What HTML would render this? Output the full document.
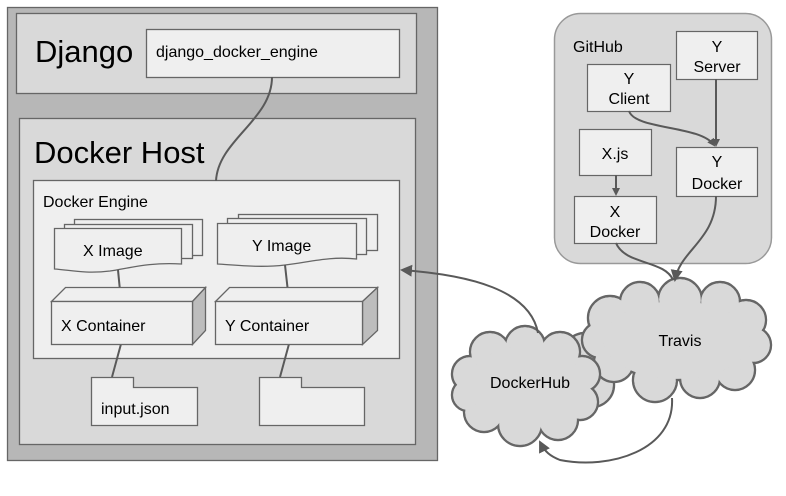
<!DOCTYPE html>
<html><head><style>
body{margin:0;background:#fff;width:786px;height:491px;overflow:hidden}
svg text{font-family:"Liberation Sans",Arial,sans-serif;fill:#000}
</style></head><body>
<svg width="786" height="491" viewBox="0 0 786 491" xmlns="http://www.w3.org/2000/svg">
<defs>
<marker id="ah" markerWidth="8" markerHeight="8" refX="6" refY="4" orient="auto" markerUnits="userSpaceOnUse">
<path d="M0,0 L8,4 L0,8 z" fill="#595959"/></marker>
<marker id="ah2" markerWidth="12" markerHeight="12" refX="10" refY="6" orient="auto" markerUnits="userSpaceOnUse">
<path d="M0,0 L12,6 L0,12 z" fill="#595959"/></marker>
</defs>
<g stroke="#666" stroke-width="1.3">
<rect x="7.5" y="7.5" width="430" height="453" fill="#b7b7b7"/>
<rect x="16.5" y="13.5" width="400" height="80" fill="#d9d9d9"/>
<rect x="146.5" y="29.5" width="253" height="48" fill="#efefef"/>
<rect x="19.5" y="118.5" width="396" height="326" fill="#d9d9d9"/>
<rect x="33.5" y="180.5" width="366" height="178" fill="#efefef"/>
<rect x="74.5" y="219.5" width="128" height="36" fill="#efefef"/>
<rect x="64.5" y="224.5" width="128" height="34" fill="#efefef"/>
<path d="M54.5,228.5 H181.5 V264 C150,262 130,268 110,271 C85,274 70,270 54.5,269 Z" fill="#efefef"/>
<rect x="238.5" y="214.5" width="139" height="36" fill="#efefef"/>
<rect x="227.5" y="218.5" width="139" height="36" fill="#efefef"/>
<path d="M217.5,223.5 H356.5 V259 C330,256 310,262 285,265 C260,268 235,265 217.5,264 Z" fill="#efefef"/>
<path d="M118,270 L121,301 M121,344 L112,377 M285,265 L289,301 M289,344 L280,377" fill="none" stroke="#595959" stroke-width="2"/>
<path d="M51.5,301.5 L65.5,287.5 H205.5 L192.5,301.5 Z" fill="#efefef"/>
<path d="M192.5,301.5 L205.5,287.5 V330.5 L192.5,344.5 Z" fill="#bdbdbd"/>
<rect x="51.5" y="301.5" width="141" height="43" fill="#efefef"/>
<path d="M215.5,301.5 L229.5,287.5 H377.5 L362.5,301.5 Z" fill="#efefef"/>
<path d="M362.5,301.5 L377.5,287.5 V330.5 L362.5,344.5 Z" fill="#bdbdbd"/>
<rect x="215.5" y="301.5" width="147" height="43" fill="#efefef"/>
<path d="M91.5,425.5 V377.5 H133.5 V387.5 H197.5 V425.5 Z" fill="#efefef"/>
<path d="M259.5,425.5 V377.5 H301.5 V387.5 H364.5 V425.5 Z" fill="#efefef"/>
</g>
<path d="M272,77 C272,120 218,140 216,181" fill="none" stroke="#595959" stroke-width="2"/>
<text x="35" y="62" font-size="31">Django</text>
<text x="156" y="57" font-size="16">django_docker_engine</text>
<text x="34" y="163" font-size="31">Docker Host</text>
<text x="43" y="207" font-size="16">Docker Engine</text>
<text x="83" y="256" font-size="16">X Image</text>
<text x="252" y="251" font-size="16">Y Image</text>
<text x="61" y="331" font-size="16">X Container</text>
<text x="225" y="331" font-size="16">Y Container</text>
<text x="101" y="414" font-size="16">input.json</text>

<rect x="554.5" y="13.5" width="217" height="250" rx="26" fill="#d9d9d9" stroke="#999" stroke-width="1.5"/>
<text x="573" y="52" font-size="16">GitHub</text>
<g stroke="#666" stroke-width="1.2" fill="#efefef">
<rect x="676.5" y="31.5" width="81" height="48"/>
<rect x="587.5" y="64.5" width="83" height="47"/>
<rect x="579.5" y="129.5" width="72" height="46"/>
<rect x="676.5" y="147.5" width="81" height="49"/>
<rect x="574.5" y="196.5" width="82" height="47"/>
</g>
<g font-size="16" text-anchor="middle">
<text x="717" y="52">Y</text><text x="717" y="72">Server</text>
<text x="629" y="84">Y</text><text x="629" y="104">Client</text>
<text x="615" y="159">X.js</text>
<text x="717" y="167">Y</text><text x="717" y="189">Docker</text>
<text x="615" y="217">X</text><text x="615" y="237">Docker</text>
</g>
<g fill="none" stroke="#595959" stroke-width="2">
<path d="M616,175 V194" marker-end="url(#ah)"/>
<path d="M716,79 V145" marker-end="url(#ah)"/>
<path d="M629,111 C635,130 700,125 714,145" marker-end="url(#ah)"/>
</g>

<!-- back partial cloud -->
<g stroke="#666" stroke-width="2.4" fill="#d9d9d9">
<circle cx="585" cy="355" r="22"/><circle cx="592" cy="385" r="22"/><ellipse cx="575" cy="375" rx="25" ry="30"/>
</g>
<g fill="#d9d9d9"><circle cx="585" cy="355" r="20.8"/><circle cx="592" cy="385" r="20.8"/><ellipse cx="575" cy="375" rx="23.8" ry="28.8"/></g>
<!-- Travis -->
<g stroke="#666" stroke-width="2.4" fill="#d9d9d9">
<circle cx="610" cy="318" r="22"/><circle cx="640" cy="302" r="20"/><circle cx="680" cy="300" r="22"/><circle cx="720" cy="302" r="20"/><circle cx="746" cy="320" r="20"/><circle cx="753" cy="345" r="18"/><circle cx="735" cy="370" r="20"/><circle cx="700" cy="378" r="20"/><circle cx="655" cy="380" r="22"/><circle cx="614" cy="362" r="20"/><circle cx="600" cy="340" r="18"/><ellipse cx="677" cy="340" rx="75" ry="40"/>
</g>
<g fill="#d9d9d9">
<circle cx="610" cy="318" r="20.8"/><circle cx="640" cy="302" r="18.8"/><circle cx="680" cy="300" r="20.8"/><circle cx="720" cy="302" r="18.8"/><circle cx="746" cy="320" r="18.8"/><circle cx="753" cy="345" r="16.8"/><circle cx="735" cy="370" r="18.8"/><circle cx="700" cy="378" r="18.8"/><circle cx="655" cy="380" r="20.8"/><circle cx="614" cy="362" r="18.8"/><circle cx="600" cy="340" r="16.8"/><ellipse cx="677" cy="340" rx="73.8" ry="38.8"/>
</g>
<!-- DockerHub -->
<g stroke="#666" stroke-width="2.4" fill="#d9d9d9">
<circle cx="470" cy="374" r="18"/><circle cx="490" cy="352" r="20"/><circle cx="525" cy="346" r="20"/><circle cx="560" cy="352" r="20"/><circle cx="582" cy="374" r="18"/><circle cx="580" cy="402" r="18"/><circle cx="558" cy="420" r="20"/><circle cx="520" cy="424" r="22"/><circle cx="484" cy="412" r="20"/><circle cx="468" cy="395" r="16"/><ellipse cx="526" cy="385" rx="60" ry="40"/>
</g>
<g fill="#d9d9d9">
<circle cx="470" cy="374" r="16.8"/><circle cx="490" cy="352" r="18.8"/><circle cx="525" cy="346" r="18.8"/><circle cx="560" cy="352" r="18.8"/><circle cx="582" cy="374" r="16.8"/><circle cx="580" cy="402" r="16.8"/><circle cx="558" cy="420" r="18.8"/><circle cx="520" cy="424" r="20.8"/><circle cx="484" cy="412" r="18.8"/><circle cx="468" cy="395" r="14.8"/><ellipse cx="526" cy="385" rx="58.8" ry="38.8"/>
</g>
<text x="680" y="346" font-size="16" text-anchor="middle">Travis</text>
<text x="530" y="388" font-size="16" text-anchor="middle">DockerHub</text>

<g fill="none" stroke="#595959" stroke-width="2">
<path d="M716,196 C716,240 680,250 675,280" marker-end="url(#ah2)"/>
<path d="M616,243 C625,265 665,260 673,280"/>
<path d="M538,333 C530,290 470,275 402,270" marker-end="url(#ah2)"/>
<path d="M672,398 C675,450 610,470 560,460 C550,456 545,452 540,442" marker-end="url(#ah2)"/>
</g>
</svg>
</body></html>
